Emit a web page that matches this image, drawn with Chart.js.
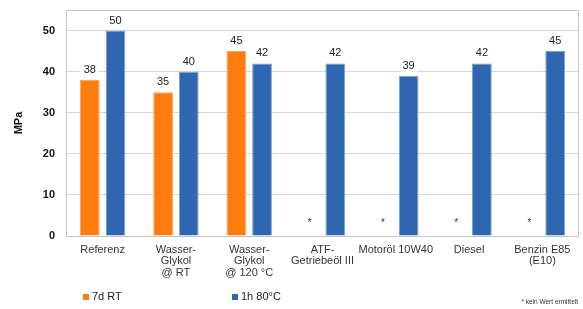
<!DOCTYPE html>
<html>
<head>
<meta charset="utf-8">
<script src="https://cdn.jsdelivr.net/npm/chart.js@4/dist/chart.umd.min.js"></script>
<style>
    html, body { margin: 0; padding: 0; background: #fff; }
    #wrap { width: 583px; height: 309px; position: relative; }
</style>
</head>
<body>
<div id="wrap"><canvas id="chart"></canvas></div>
<script>
const categories = [
    ["Referenz"],
    ["Wasser-", "Glykol", "@ RT"],
    ["Wasser-", "Glykol", "@ 120 °C"],
    ["ATF-", "Getriebeöl III"],
    ["Motoröl 10W40"],
    ["Diesel"],
    ["Benzin E85", "(E10)"]
];
const seriesNames = ["7d RT", "1h 80°C"];
const rtValues = [38, 35, 45, null, null, null, null];
const hotValues = [50, 40, 42, 42, 39, 42, 45];
const yTicks = [0, 10, 20, 30, 40, 50];
const footnote = "* kein Wert ermittelt";

const FONT = "'Liberation Sans', Arial, sans-serif";
const colors = ["#ff7c10", "#2e66b0"];
const edges = ["#ffa45c", "#7aa0d4"];

// frame around the plot area
const framePlugin = {
    id: "frame",
    beforeDatasetsDraw(chart) {
        const { ctx, chartArea: a } = chart;
        ctx.save();
        ctx.strokeStyle = "#c4c4c4";
        ctx.lineWidth = 1;
        ctx.strokeRect(Math.round(a.left) + 0.5, Math.round(a.top) + 0.5,
            Math.round(a.right - a.left) - 1, Math.round(a.bottom - a.top));
        ctx.restore();
    }
};

// value labels, asterisks for missing values, legend and footnote
const labelPlugin = {
    id: "labels",
    afterDatasetsDraw(chart) {
        const ctx = chart.ctx;
        const y = chart.scales.y;
        ctx.save();
        ctx.font = "11px " + FONT;
        ctx.textAlign = "center";
        ctx.textBaseline = "middle";
        const m0 = chart.getDatasetMeta(0);
        const m1 = chart.getDatasetMeta(1);
        const shift = m1.data[0].x - m0.data[0].x;
        chart.data.datasets.forEach((ds, di) => {
            const meta = chart.getDatasetMeta(di);
            meta.data.forEach((bar, i) => {
                const v = ds.data[i];
                if (v === null) {
                    const x = m1.data[i].x - shift;
                    ctx.fillStyle = "#333";
                    ctx.font = "10px " + FONT;
                    ctx.fillText("*", x, y.getPixelForValue(0) - 13);
                    ctx.font = "11px " + FONT;
                    return;
                }
                const txt = String(v);
                const w = ctx.measureText(txt).width + 6;
                const ty = bar.y - 10;
                ctx.fillStyle = "#fff";
                ctx.fillRect(bar.x - w / 2, ty - 6, w, 12);
                ctx.fillStyle = "#222";
                ctx.fillText(txt, bar.x, ty);
            });
        });

        // legend
        const legendX = [83, 232];
        ctx.textAlign = "left";
        ctx.font = "11px " + FONT;
        seriesNames.forEach((name, i) => {
            ctx.fillStyle = colors[i];
            ctx.fillRect(legendX[i], 294, 6, 6);
            ctx.fillStyle = "#222";
            ctx.fillText(name, legendX[i] + 9, 297);
        });

        // footnote
        ctx.font = "6.5px " + FONT;
        ctx.textAlign = "right";
        ctx.fillStyle = "#333";
        ctx.fillText(footnote, 578, 302);
        ctx.restore();
    }
};

new Chart(document.getElementById("chart"), {
    type: "bar",
    data: {
        labels: categories,
        datasets: [
            {
                label: seriesNames[0],
                data: rtValues,
                backgroundColor: colors[0],
                borderColor: edges[0],
                borderWidth: 1,
                categoryPercentage: 0.7,
                barPercentage: 0.77
            },
            {
                label: seriesNames[1],
                data: hotValues,
                backgroundColor: colors[1],
                borderColor: edges[1],
                borderWidth: 1,
                categoryPercentage: 0.7,
                barPercentage: 0.77
            }
        ]
    },
    options: {
        responsive: true,
        maintainAspectRatio: false,
        animation: false,
        layout: { padding: { top: 10, right: 4, bottom: 0, left: 0 } },
        plugins: {
            legend: { display: false },
            tooltip: { enabled: false }
        },
        scales: {
            x: {
                grid: { display: false },
                border: { display: false },
                ticks: {
                    color: "#333",
                    font: { family: FONT, size: 11, lineHeight: 1.05 },
                    padding: 0,
                    maxRotation: 0,
                    autoSkip: false
                },
                afterFit(scale) { scale.height = 73; }
            },
            y: {
                min: 0,
                max: 55,
                afterBuildTicks(scale) {
                    scale.ticks = yTicks.map(v => ({ value: v }));
                },
                grid: { color: "#d6d6d6", drawTicks: false },
                border: { display: false },
                ticks: {
                    color: "#111",
                    font: { family: FONT, size: 11, weight: "bold" },
                    padding: 11
                },
                title: {
                    display: true,
                    text: "MPa",
                    color: "#111",
                    font: { family: FONT, size: 11, weight: "bold" },
                    padding: { top: 12, bottom: 0 }
                },
                afterFit(scale) {
                    scale.width = 66;
                    scale.paddingTop = 0;
                    scale.paddingBottom = 0;
                }
            }
        }
    },
    plugins: [framePlugin, labelPlugin]
});
</script>
</body>
</html>
